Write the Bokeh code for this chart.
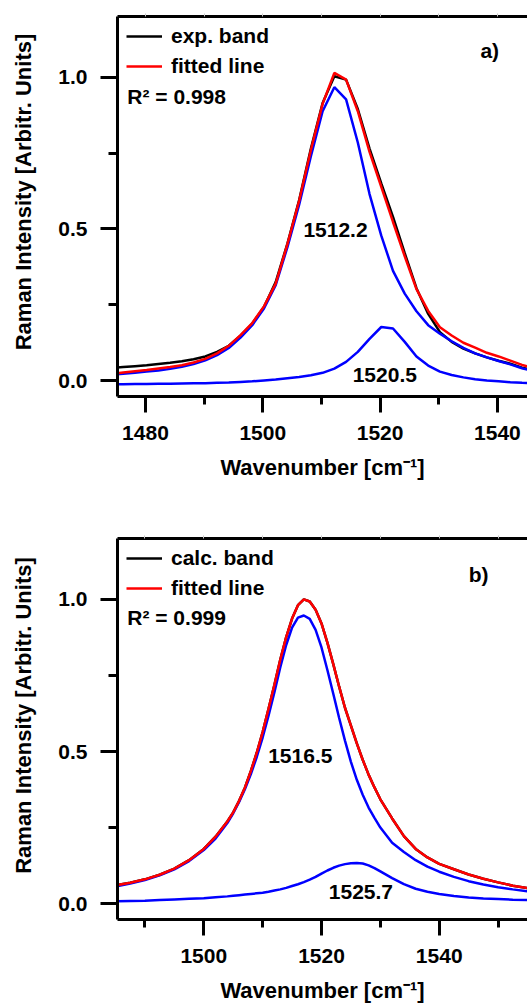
import math
from bokeh.plotting import figure
from bokeh.models import (Range1d, FixedTicker, LinearAxis, Label, Legend,
                          LegendItem, NumeralTickFormatter)
from bokeh.layouts import column, row
from bokeh.embed import file_html
from bokeh.resources import INLINE

FONT = "Liberation Sans"

# ---------------- panel a) : experimental band ----------------
wn_a = [1474.2, 1476.2, 1478.2, 1480.2, 1482.2, 1484.2, 1486.2, 1488.2, 1490.2,
        1492.2, 1494.2, 1496.2, 1498.2, 1500.2, 1502.2, 1504.2, 1506.2, 1508.2,
        1510.2, 1512.2, 1514.2, 1516.2, 1518.2, 1520.2, 1522.2, 1524.2, 1526.2,
        1528.2, 1530.2, 1532.2, 1534.2, 1536.2, 1538.2, 1540.2, 1542.2, 1544.2,
        1546.2]
exp_a = [0.042, 0.045, 0.048, 0.051, 0.055, 0.059, 0.064, 0.071, 0.080, 0.095,
         0.115, 0.148, 0.188, 0.243, 0.325, 0.452, 0.595, 0.765, 0.915, 1.003,
         0.992, 0.895, 0.765, 0.650, 0.540, 0.420, 0.305, 0.220, 0.160, 0.128,
         0.106, 0.090, 0.077, 0.066, 0.056, 0.043, 0.035]
fit_a = [0.023, 0.027, 0.031, 0.035, 0.040, 0.045, 0.051, 0.060, 0.072, 0.090,
         0.115, 0.150, 0.190, 0.245, 0.320, 0.450, 0.593, 0.760, 0.912, 1.014,
         0.992, 0.888, 0.754, 0.639, 0.523, 0.410, 0.302, 0.230, 0.176, 0.149,
         0.125, 0.109, 0.092, 0.080, 0.066, 0.052, 0.042]
comp1_a = [0.020, 0.023, 0.026, 0.030, 0.034, 0.039, 0.046, 0.055, 0.067, 0.084,
           0.108, 0.142, 0.183, 0.238, 0.315, 0.440, 0.580, 0.740, 0.888, 0.967,
           0.927, 0.785, 0.615, 0.478, 0.362, 0.287, 0.229, 0.183, 0.155, 0.130,
           0.108, 0.090, 0.077, 0.065, 0.054, 0.041, 0.032]
comp2_a = [-0.012, -0.012, -0.011, -0.011, -0.010, -0.010, -0.009, -0.008, -0.008,
           -0.007, -0.006, -0.004, -0.002, 0.001, 0.004, 0.008, 0.012, 0.018,
           0.026, 0.040, 0.062, 0.095, 0.138, 0.177, 0.172, 0.128, 0.080, 0.050,
           0.030, 0.019, 0.011, 0.005, 0.001, -0.002, -0.005, -0.007, -0.008]
peaks_a = ["1512.2", "1520.5"]
peak_pos_a = [(1512.4, 0.475), (1520.8, -0.005)]
legend_a = ["exp. band", "fitted line"]
r2_a = "R\u00b2 = 0.998"
xmajor_a = [1480, 1500, 1520, 1540]
xminor_a = [1490, 1510, 1530]
xtop_a = [1480, 1490, 1500, 1510, 1520, 1530, 1540]

# ---------------- panel b) : calculated band ----------------
wn_b = [1485, 1487.5, 1490, 1492.5, 1495, 1497.5, 1500, 1502, 1504, 1505, 1506,
        1507, 1508, 1509, 1510, 1511, 1512, 1513, 1514, 1515, 1516, 1517, 1518,
        1519, 1520, 1521, 1522, 1523, 1524, 1525, 1526, 1527, 1528, 1529, 1530,
        1532, 1534, 1536, 1538, 1540, 1542.5, 1545, 1547.5, 1550, 1552.5, 1555]
calc_b = [0.060, 0.069, 0.080, 0.095, 0.115, 0.143, 0.180, 0.220, 0.270, 0.300,
          0.338, 0.382, 0.436, 0.496, 0.564, 0.640, 0.719, 0.802, 0.876, 0.937,
          0.981, 1.000, 0.993, 0.966, 0.921, 0.858, 0.787, 0.713, 0.643, 0.585,
          0.527, 0.473, 0.424, 0.382, 0.343, 0.280, 0.222, 0.180, 0.152, 0.131,
          0.113, 0.096, 0.082, 0.070, 0.059, 0.051]
fit_b = [0.060, 0.069, 0.080, 0.095, 0.115, 0.143, 0.180, 0.220, 0.270, 0.300,
         0.338, 0.382, 0.436, 0.496, 0.564, 0.640, 0.719, 0.802, 0.876, 0.937,
         0.981, 1.000, 0.993, 0.966, 0.921, 0.858, 0.787, 0.713, 0.643, 0.585,
         0.527, 0.473, 0.424, 0.382, 0.343, 0.280, 0.222, 0.180, 0.152, 0.131,
         0.113, 0.096, 0.082, 0.070, 0.059, 0.051]
comp1_b = [0.056, 0.066, 0.078, 0.093, 0.113, 0.140, 0.176, 0.214, 0.265, 0.297,
           0.334, 0.377, 0.426, 0.482, 0.546, 0.618, 0.695, 0.777, 0.850, 0.907,
           0.940, 0.947, 0.936, 0.900, 0.842, 0.768, 0.690, 0.610, 0.535, 0.466,
           0.407, 0.358, 0.316, 0.282, 0.250, 0.200, 0.170, 0.143, 0.122, 0.105,
           0.088, 0.074, 0.063, 0.054, 0.047, 0.041]
comp2_b = [0.008, 0.009, 0.010, 0.012, 0.014, 0.016, 0.018, 0.021, 0.024, 0.026,
           0.028, 0.030, 0.032, 0.034, 0.036, 0.039, 0.043, 0.047, 0.052, 0.058,
           0.064, 0.071, 0.079, 0.088, 0.099, 0.109, 0.118, 0.125, 0.130, 0.133,
           0.134, 0.132, 0.126, 0.117, 0.106, 0.084, 0.064, 0.049, 0.039, 0.032,
           0.025, 0.020, 0.017, 0.015, 0.013, 0.012]
peaks_b = ["1516.5", "1525.7"]
peak_pos_b = [(1516.4, 0.463), (1526.7, 0.0155)]
legend_b = ["calc. band", "fitted line"]
r2_b = "R\u00b2 = 0.999"
xmajor_b = [1500, 1520, 1540]
xminor_b = [1490, 1510, 1530, 1550]
xtop_b = [1490, 1500, 1510, 1520, 1530, 1540, 1550]

Y_MAJOR = [0.0, 0.5, 1.0]
Y_MINOR = [0.25, 0.75]
X_LABEL = "Wavenumber [cm\u207b\u00b9]"
Y_LABEL = "Raman Intensity [Arbitr. Units]"

LAB_W = 40          # narrow strip holding the vertical axis title
FIG_W = 527 - LAB_W
BORDER_L = 117 - LAB_W


def title_strip(height, btop, bbot, center_from_top):
    frame_h = height - btop - bbot
    s = figure(width=LAB_W, height=height, output_backend="svg",
               toolbar_location=None, x_range=Range1d(0, LAB_W),
               y_range=Range1d(0, frame_h), x_axis_location=None,
               y_axis_location=None, min_border_left=0, min_border_right=0,
               min_border_top=btop, min_border_bottom=bbot)
    s.outline_line_color = None
    s.grid.visible = False
    s.add_layout(Label(x=23, y=height - bbot - center_from_top, text=Y_LABEL,
                       angle=math.pi / 2, text_align="center",
                       text_baseline="middle", text_font=FONT,
                       text_font_style="bold", text_font_size="22px",
                       text_color="black"))
    return s


def panel(height, btop, bbot, xr, yr, xmaj, xmin, xtop, wn, ref, fit, c1, c2,
          leg, r2, r2_pos, tag, tag_pos, peaks, peak_pos):
    p = figure(width=FIG_W, height=height, output_backend="svg",
               toolbar_location=None, x_range=Range1d(*xr), y_range=Range1d(*yr),
               min_border_left=BORDER_L, min_border_right=0,
               min_border_top=btop, min_border_bottom=bbot)
    p.outline_line_color = None
    p.grid.visible = False
    p.background_fill_color = "white"
    p.border_fill_color = "white"

    ax = p.xaxis[0]
    ax.ticker = FixedTicker(ticks=xmaj, minor_ticks=xmin)
    ax.formatter = NumeralTickFormatter(format="0")
    ay = p.yaxis[0]
    ay.ticker = FixedTicker(ticks=Y_MAJOR, minor_ticks=Y_MINOR)
    ay.formatter = NumeralTickFormatter(format="0.0")
    for a in (ax, ay):
        a.axis_line_width = 3
        a.axis_line_color = "black"
        a.major_tick_line_width = 3
        a.minor_tick_line_width = 3
        a.major_tick_in = 0
        a.minor_tick_in = 0
        a.major_label_text_font = FONT
        a.major_label_text_font_style = "bold"
        a.major_label_text_font_size = "21px"
        a.major_label_text_color = "black"
    ax.major_tick_out = 16
    ax.minor_tick_out = 8
    ax.major_label_standoff = 13
    ay.major_tick_out = 17
    ay.minor_tick_out = 9
    ay.major_label_standoff = 13
    ax.axis_label = X_LABEL
    ax.axis_label_text_font = FONT
    ax.axis_label_text_font_style = "bold"
    ax.axis_label_text_font_size = "22px"
    ax.axis_label_text_color = "black"
    ax.axis_label_standoff = 12

    top = LinearAxis(ticker=FixedTicker(ticks=xtop, minor_ticks=[]),
                     axis_line_width=3, axis_line_color="black",
                     major_tick_in=0, major_tick_out=3,
                     major_tick_line_color="#c8c8c8", major_tick_line_width=1,
                     minor_tick_line_color=None, major_label_standoff=0,
                     major_label_overrides={t: "" for t in xtop})
    p.add_layout(top, "above")

    r_ref = p.line(wn, ref, line_color="black", line_width=2.5)
    p.line(wn, c1, line_color="#0000ff", line_width=2.5)
    p.line(wn, c2, line_color="#0000ff", line_width=2.5)
    r_fit = p.line(wn, fit, line_color="#ff0000", line_width=2.5)

    frame_h = height - btop - bbot
    legend = Legend(items=[LegendItem(label=leg[0], renderers=[r_ref]),
                           LegendItem(label=leg[1], renderers=[r_fit])],
                    location=(9, frame_h - 5 - 60), padding=0, margin=0,
                    spacing=0, label_height=30, glyph_height=30, glyph_width=36,
                    label_standoff=9, border_line_color=None,
                    background_fill_alpha=0, label_text_font=FONT,
                    label_text_font_style="bold", label_text_font_size="21px",
                    label_text_color="black")
    p.add_layout(legend)

    common = dict(text_font=FONT, text_font_style="bold", text_font_size="21px",
                  text_color="black")
    p.add_layout(Label(x=r2_pos[0], y=r2_pos[1], text=r2, **common))
    p.add_layout(Label(x=tag_pos[0], y=tag_pos[1], text=tag, **common))
    for t, (px, py) in zip(peaks, peak_pos):
        p.add_layout(Label(x=px, y=py, text=t, text_align="center", **common))
    return p


H1, T1, B1 = 508, 16, 112
H2, T2, B2 = 500, 30, 89

p1 = panel(H1, T1, B1, (1475.23, 1545.13), (-0.052, 1.2), xmajor_a, xminor_a,
           xtop_a, wn_a, exp_a, fit_a, comp1_a, comp2_a, legend_a, r2_a,
           (1476.9, 0.899), "a)", (1537.1, 1.049), peaks_a, peak_pos_a)
p2 = panel(H2, T2, B2, (1485.34, 1555.0), (-0.052, 1.2), xmajor_b, xminor_b,
           xtop_b, wn_b, calc_b, fit_b, comp1_b, comp2_b, legend_b, r2_b,
           (1487.0, 0.904), "b)", (1545.0, 1.043), peaks_b, peak_pos_b)
s1 = title_strip(H1, T1, B1, 191.5)
s2 = title_strip(H2, T2, B2, 715 - H1)

layout = column(row(s1, p1), row(s2, p2))
html = file_html(layout, INLINE)
html = html.replace("<head>", "<head><style>html,body{overflow:hidden;}</style>", 1)
open("out.html", "w").write(html)
